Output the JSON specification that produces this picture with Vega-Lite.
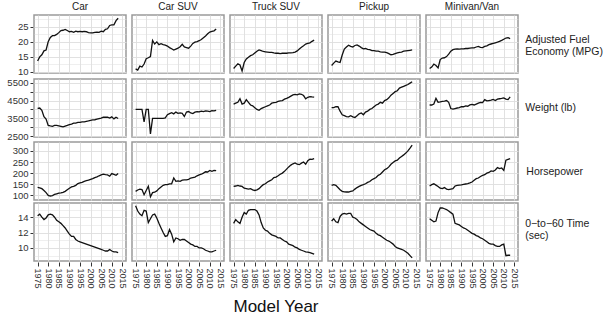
{
"$schema": "https://vega.github.io/schema/vega-lite/v6.json",
"padding": {"left": 6, "top": 2, "right": 2, "bottom": 2},
"datasets": {"d": [
{"c":"Car","yr":1975,"mpg":13.5,"wt":4060,"hp":136,"t":14.2},
{"c":"Car","yr":1976,"mpg":14.9,"wt":4080,"hp":134,"t":14.4},
{"c":"Car","yr":1977,"mpg":15.6,"wt":3950,"hp":130,"t":14.0},
{"c":"Car","yr":1978,"mpg":16.9,"wt":3590,"hp":122,"t":13.7},
{"c":"Car","yr":1979,"mpg":17.2,"wt":3460,"hp":112,"t":13.9},
{"c":"Car","yr":1980,"mpg":20.0,"wt":3100,"hp":100,"t":14.3},
{"c":"Car","yr":1981,"mpg":21.4,"wt":3070,"hp":97,"t":14.4},
{"c":"Car","yr":1982,"mpg":22.0,"wt":3050,"hp":99,"t":14.3},
{"c":"Car","yr":1983,"mpg":22.0,"wt":3100,"hp":104,"t":14.0},
{"c":"Car","yr":1984,"mpg":22.4,"wt":3100,"hp":107,"t":13.6},
{"c":"Car","yr":1985,"mpg":23.0,"wt":3080,"hp":110,"t":13.4},
{"c":"Car","yr":1986,"mpg":23.7,"wt":3050,"hp":111,"t":13.2},
{"c":"Car","yr":1987,"mpg":23.8,"wt":3020,"hp":113,"t":12.9},
{"c":"Car","yr":1988,"mpg":24.1,"wt":3060,"hp":118,"t":12.6},
{"c":"Car","yr":1989,"mpg":23.7,"wt":3100,"hp":125,"t":12.2},
{"c":"Car","yr":1990,"mpg":23.3,"wt":3150,"hp":132,"t":11.8},
{"c":"Car","yr":1991,"mpg":23.4,"wt":3180,"hp":138,"t":11.5},
{"c":"Car","yr":1992,"mpg":23.1,"wt":3230,"hp":140,"t":11.5},
{"c":"Car","yr":1993,"mpg":23.5,"wt":3230,"hp":145,"t":11.1},
{"c":"Car","yr":1994,"mpg":23.3,"wt":3270,"hp":153,"t":10.9},
{"c":"Car","yr":1995,"mpg":23.4,"wt":3270,"hp":156,"t":10.8},
{"c":"Car","yr":1996,"mpg":23.3,"wt":3300,"hp":158,"t":10.7},
{"c":"Car","yr":1997,"mpg":23.4,"wt":3300,"hp":163,"t":10.6},
{"c":"Car","yr":1998,"mpg":23.3,"wt":3330,"hp":166,"t":10.5},
{"c":"Car","yr":1999,"mpg":23.0,"wt":3350,"hp":168,"t":10.4},
{"c":"Car","yr":2000,"mpg":22.9,"wt":3390,"hp":172,"t":10.3},
{"c":"Car","yr":2001,"mpg":22.9,"wt":3410,"hp":175,"t":10.2},
{"c":"Car","yr":2002,"mpg":23.1,"wt":3420,"hp":180,"t":10.1},
{"c":"Car","yr":2003,"mpg":23.2,"wt":3450,"hp":183,"t":10.0},
{"c":"Car","yr":2004,"mpg":23.1,"wt":3480,"hp":188,"t":9.9},
{"c":"Car","yr":2005,"mpg":23.5,"wt":3510,"hp":192,"t":9.8},
{"c":"Car","yr":2006,"mpg":23.3,"wt":3560,"hp":195,"t":9.7},
{"c":"Car","yr":2007,"mpg":24.1,"wt":3570,"hp":193,"t":9.6},
{"c":"Car","yr":2008,"mpg":24.3,"wt":3560,"hp":192,"t":9.6},
{"c":"Car","yr":2009,"mpg":25.4,"wt":3510,"hp":186,"t":9.8},
{"c":"Car","yr":2010,"mpg":25.6,"wt":3580,"hp":198,"t":9.6},
{"c":"Car","yr":2011,"mpg":25.6,"wt":3470,"hp":194,"t":9.5},
{"c":"Car","yr":2012,"mpg":27.0,"wt":3560,"hp":190,"t":9.5},
{"c":"Car","yr":2013,"mpg":27.8,"wt":3490,"hp":198,"t":9.4},
{"c":"Car SUV","yr":1975,"mpg":10.9,"wt":4000,"hp":118,"t":15.5},
{"c":"Car SUV","yr":1976,"mpg":10.5,"wt":4000,"hp":124,"t":14.8},
{"c":"Car SUV","yr":1977,"mpg":11.8,"wt":4000,"hp":128,"t":14.4},
{"c":"Car SUV","yr":1978,"mpg":11.5,"wt":4000,"hp":126,"t":14.2},
{"c":"Car SUV","yr":1979,"mpg":12.5,"wt":3300,"hp":103,"t":14.9},
{"c":"Car SUV","yr":1980,"mpg":14.3,"wt":4000,"hp":122,"t":14.8},
{"c":"Car SUV","yr":1981,"mpg":14.6,"wt":4000,"hp":141,"t":13.3},
{"c":"Car SUV","yr":1982,"mpg":15.0,"wt":2620,"hp":93,"t":13.8},
{"c":"Car SUV","yr":1983,"mpg":20.4,"wt":3500,"hp":112,"t":14.3},
{"c":"Car SUV","yr":1984,"mpg":19.2,"wt":3500,"hp":114,"t":14.4},
{"c":"Car SUV","yr":1985,"mpg":19.9,"wt":3500,"hp":120,"t":13.9},
{"c":"Car SUV","yr":1986,"mpg":19.0,"wt":3500,"hp":130,"t":13.2},
{"c":"Car SUV","yr":1987,"mpg":19.3,"wt":3500,"hp":138,"t":12.6},
{"c":"Car SUV","yr":1988,"mpg":19.0,"wt":3500,"hp":145,"t":12.0},
{"c":"Car SUV","yr":1989,"mpg":18.8,"wt":3520,"hp":148,"t":11.5},
{"c":"Car SUV","yr":1990,"mpg":18.5,"wt":3700,"hp":148,"t":11.6},
{"c":"Car SUV","yr":1991,"mpg":18.0,"wt":3760,"hp":152,"t":12.4},
{"c":"Car SUV","yr":1992,"mpg":17.6,"wt":3820,"hp":152,"t":11.8},
{"c":"Car SUV","yr":1993,"mpg":17.2,"wt":3750,"hp":178,"t":10.8},
{"c":"Car SUV","yr":1994,"mpg":17.5,"wt":3850,"hp":163,"t":11.3},
{"c":"Car SUV","yr":1995,"mpg":17.8,"wt":3780,"hp":165,"t":11.2},
{"c":"Car SUV","yr":1996,"mpg":18.3,"wt":3800,"hp":163,"t":11.0},
{"c":"Car SUV","yr":1997,"mpg":19.1,"wt":3780,"hp":168,"t":11.1},
{"c":"Car SUV","yr":1998,"mpg":18.2,"wt":3600,"hp":170,"t":11.1},
{"c":"Car SUV","yr":1999,"mpg":18.0,"wt":3850,"hp":170,"t":10.9},
{"c":"Car SUV","yr":2000,"mpg":17.8,"wt":3880,"hp":172,"t":10.7},
{"c":"Car SUV","yr":2001,"mpg":18.5,"wt":3800,"hp":178,"t":10.5},
{"c":"Car SUV","yr":2002,"mpg":19.4,"wt":3770,"hp":180,"t":10.4},
{"c":"Car SUV","yr":2003,"mpg":19.8,"wt":3850,"hp":182,"t":10.2},
{"c":"Car SUV","yr":2004,"mpg":20.0,"wt":3880,"hp":188,"t":10.2},
{"c":"Car SUV","yr":2005,"mpg":20.3,"wt":3860,"hp":192,"t":10.0},
{"c":"Car SUV","yr":2006,"mpg":20.7,"wt":3900,"hp":195,"t":10.0},
{"c":"Car SUV","yr":2007,"mpg":21.3,"wt":3880,"hp":200,"t":9.9},
{"c":"Car SUV","yr":2008,"mpg":21.9,"wt":3920,"hp":206,"t":9.7},
{"c":"Car SUV","yr":2009,"mpg":22.6,"wt":3900,"hp":205,"t":9.6},
{"c":"Car SUV","yr":2010,"mpg":23.2,"wt":3880,"hp":212,"t":9.5},
{"c":"Car SUV","yr":2011,"mpg":23.4,"wt":3930,"hp":208,"t":9.5},
{"c":"Car SUV","yr":2012,"mpg":23.6,"wt":3920,"hp":212,"t":9.6},
{"c":"Car SUV","yr":2013,"mpg":24.2,"wt":3950,"hp":211,"t":9.7},
{"c":"Truck SUV","yr":1975,"mpg":11.0,"wt":4300,"hp":140,"t":13.2},
{"c":"Truck SUV","yr":1976,"mpg":11.8,"wt":4350,"hp":142,"t":13.7},
{"c":"Truck SUV","yr":1977,"mpg":12.6,"wt":4400,"hp":145,"t":13.4},
{"c":"Truck SUV","yr":1978,"mpg":12.2,"wt":4600,"hp":142,"t":13.2},
{"c":"Truck SUV","yr":1979,"mpg":10.2,"wt":4300,"hp":140,"t":14.0},
{"c":"Truck SUV","yr":1980,"mpg":13.0,"wt":4350,"hp":132,"t":14.6},
{"c":"Truck SUV","yr":1981,"mpg":14.2,"wt":4550,"hp":130,"t":14.4},
{"c":"Truck SUV","yr":1982,"mpg":14.8,"wt":4400,"hp":128,"t":14.9},
{"c":"Truck SUV","yr":1983,"mpg":15.3,"wt":4250,"hp":130,"t":15.0},
{"c":"Truck SUV","yr":1984,"mpg":15.6,"wt":4200,"hp":125,"t":15.0},
{"c":"Truck SUV","yr":1985,"mpg":16.2,"wt":4100,"hp":122,"t":15.0},
{"c":"Truck SUV","yr":1986,"mpg":16.8,"wt":4000,"hp":125,"t":14.8},
{"c":"Truck SUV","yr":1987,"mpg":17.2,"wt":3950,"hp":130,"t":14.3},
{"c":"Truck SUV","yr":1988,"mpg":17.0,"wt":4050,"hp":140,"t":13.3},
{"c":"Truck SUV","yr":1989,"mpg":16.7,"wt":4100,"hp":148,"t":12.6},
{"c":"Truck SUV","yr":1990,"mpg":16.6,"wt":4150,"hp":152,"t":12.3},
{"c":"Truck SUV","yr":1991,"mpg":16.5,"wt":4200,"hp":160,"t":12.2},
{"c":"Truck SUV","yr":1992,"mpg":16.4,"wt":4250,"hp":165,"t":11.9},
{"c":"Truck SUV","yr":1993,"mpg":16.4,"wt":4350,"hp":170,"t":11.7},
{"c":"Truck SUV","yr":1994,"mpg":16.2,"wt":4380,"hp":180,"t":11.6},
{"c":"Truck SUV","yr":1995,"mpg":16.1,"wt":4400,"hp":182,"t":11.5},
{"c":"Truck SUV","yr":1996,"mpg":16.1,"wt":4450,"hp":188,"t":11.3},
{"c":"Truck SUV","yr":1997,"mpg":16.0,"wt":4480,"hp":195,"t":11.3},
{"c":"Truck SUV","yr":1998,"mpg":16.1,"wt":4500,"hp":200,"t":11.1},
{"c":"Truck SUV","yr":1999,"mpg":16.1,"wt":4580,"hp":208,"t":10.9},
{"c":"Truck SUV","yr":2000,"mpg":16.1,"wt":4620,"hp":218,"t":10.8},
{"c":"Truck SUV","yr":2001,"mpg":16.2,"wt":4680,"hp":228,"t":10.5},
{"c":"Truck SUV","yr":2002,"mpg":16.2,"wt":4750,"hp":236,"t":10.4},
{"c":"Truck SUV","yr":2003,"mpg":16.3,"wt":4820,"hp":242,"t":10.3},
{"c":"Truck SUV","yr":2004,"mpg":16.5,"wt":4840,"hp":246,"t":10.1},
{"c":"Truck SUV","yr":2005,"mpg":16.9,"wt":4820,"hp":240,"t":10.0},
{"c":"Truck SUV","yr":2006,"mpg":17.5,"wt":4870,"hp":238,"t":9.8},
{"c":"Truck SUV","yr":2007,"mpg":18.1,"wt":4850,"hp":245,"t":9.7},
{"c":"Truck SUV","yr":2008,"mpg":18.6,"wt":4780,"hp":250,"t":9.6},
{"c":"Truck SUV","yr":2009,"mpg":19.2,"wt":4600,"hp":240,"t":9.5},
{"c":"Truck SUV","yr":2010,"mpg":19.4,"wt":4680,"hp":256,"t":9.45},
{"c":"Truck SUV","yr":2011,"mpg":19.6,"wt":4720,"hp":263,"t":9.4},
{"c":"Truck SUV","yr":2012,"mpg":20.1,"wt":4700,"hp":262,"t":9.3},
{"c":"Truck SUV","yr":2013,"mpg":20.5,"wt":4690,"hp":265,"t":9.2},
{"c":"Pickup","yr":1975,"mpg":12.0,"wt":4100,"hp":145,"t":13.5},
{"c":"Pickup","yr":1976,"mpg":12.8,"wt":4100,"hp":148,"t":13.8},
{"c":"Pickup","yr":1977,"mpg":13.5,"wt":4150,"hp":145,"t":13.4},
{"c":"Pickup","yr":1978,"mpg":13.2,"wt":4150,"hp":135,"t":13.3},
{"c":"Pickup","yr":1979,"mpg":13.0,"wt":3900,"hp":125,"t":14.1},
{"c":"Pickup","yr":1980,"mpg":15.5,"wt":3700,"hp":118,"t":14.4},
{"c":"Pickup","yr":1981,"mpg":17.5,"wt":3650,"hp":116,"t":14.5},
{"c":"Pickup","yr":1982,"mpg":18.2,"wt":3600,"hp":115,"t":14.4},
{"c":"Pickup","yr":1983,"mpg":18.8,"wt":3580,"hp":115,"t":14.5},
{"c":"Pickup","yr":1984,"mpg":18.4,"wt":3650,"hp":118,"t":14.5},
{"c":"Pickup","yr":1985,"mpg":18.2,"wt":3580,"hp":120,"t":14.0},
{"c":"Pickup","yr":1986,"mpg":18.7,"wt":3550,"hp":128,"t":13.9},
{"c":"Pickup","yr":1987,"mpg":18.9,"wt":3650,"hp":135,"t":13.7},
{"c":"Pickup","yr":1988,"mpg":18.5,"wt":3750,"hp":140,"t":13.4},
{"c":"Pickup","yr":1989,"mpg":18.0,"wt":3800,"hp":145,"t":13.2},
{"c":"Pickup","yr":1990,"mpg":17.6,"wt":3700,"hp":148,"t":13.0},
{"c":"Pickup","yr":1991,"mpg":17.7,"wt":3850,"hp":152,"t":12.8},
{"c":"Pickup","yr":1992,"mpg":17.4,"wt":3900,"hp":158,"t":12.6},
{"c":"Pickup","yr":1993,"mpg":17.3,"wt":4000,"hp":162,"t":12.4},
{"c":"Pickup","yr":1994,"mpg":17.0,"wt":4050,"hp":170,"t":12.3},
{"c":"Pickup","yr":1995,"mpg":17.0,"wt":4150,"hp":175,"t":12.2},
{"c":"Pickup","yr":1996,"mpg":16.8,"wt":4250,"hp":180,"t":11.9},
{"c":"Pickup","yr":1997,"mpg":16.8,"wt":4300,"hp":190,"t":11.7},
{"c":"Pickup","yr":1998,"mpg":16.6,"wt":4400,"hp":195,"t":11.6},
{"c":"Pickup","yr":1999,"mpg":16.5,"wt":4350,"hp":205,"t":11.4},
{"c":"Pickup","yr":2000,"mpg":16.5,"wt":4500,"hp":215,"t":11.2},
{"c":"Pickup","yr":2001,"mpg":16.3,"wt":4550,"hp":220,"t":11.0},
{"c":"Pickup","yr":2002,"mpg":16.0,"wt":4650,"hp":228,"t":10.9},
{"c":"Pickup","yr":2003,"mpg":15.6,"wt":4800,"hp":240,"t":10.7},
{"c":"Pickup","yr":2004,"mpg":15.7,"wt":4900,"hp":248,"t":10.5},
{"c":"Pickup","yr":2005,"mpg":16.0,"wt":5000,"hp":255,"t":10.2},
{"c":"Pickup","yr":2006,"mpg":16.2,"wt":5050,"hp":258,"t":10.0},
{"c":"Pickup","yr":2007,"mpg":16.4,"wt":5200,"hp":268,"t":9.9},
{"c":"Pickup","yr":2008,"mpg":16.5,"wt":5250,"hp":275,"t":9.8},
{"c":"Pickup","yr":2009,"mpg":16.8,"wt":5300,"hp":282,"t":9.7},
{"c":"Pickup","yr":2010,"mpg":16.9,"wt":5350,"hp":290,"t":9.5},
{"c":"Pickup","yr":2011,"mpg":17.0,"wt":5400,"hp":300,"t":9.3},
{"c":"Pickup","yr":2012,"mpg":17.1,"wt":5480,"hp":312,"t":9.0},
{"c":"Pickup","yr":2013,"mpg":17.2,"wt":5560,"hp":326,"t":8.7},
{"c":"Minivan/Van","yr":1975,"mpg":11.0,"wt":4250,"hp":142,"t":13.8},
{"c":"Minivan/Van","yr":1976,"mpg":11.5,"wt":4250,"hp":148,"t":13.6},
{"c":"Minivan/Van","yr":1977,"mpg":12.5,"wt":4300,"hp":152,"t":13.4},
{"c":"Minivan/Van","yr":1978,"mpg":12.0,"wt":4620,"hp":146,"t":13.5},
{"c":"Minivan/Van","yr":1979,"mpg":11.2,"wt":4400,"hp":140,"t":14.6},
{"c":"Minivan/Van","yr":1980,"mpg":14.0,"wt":4420,"hp":132,"t":15.2},
{"c":"Minivan/Van","yr":1981,"mpg":14.5,"wt":4450,"hp":130,"t":15.2},
{"c":"Minivan/Van","yr":1982,"mpg":14.6,"wt":4470,"hp":135,"t":15.1},
{"c":"Minivan/Van","yr":1983,"mpg":15.0,"wt":4500,"hp":128,"t":15.0},
{"c":"Minivan/Van","yr":1984,"mpg":15.8,"wt":4400,"hp":126,"t":14.8},
{"c":"Minivan/Van","yr":1985,"mpg":16.8,"wt":4050,"hp":128,"t":14.6},
{"c":"Minivan/Van","yr":1986,"mpg":17.3,"wt":4020,"hp":130,"t":14.4},
{"c":"Minivan/Van","yr":1987,"mpg":17.5,"wt":4050,"hp":142,"t":13.2},
{"c":"Minivan/Van","yr":1988,"mpg":17.6,"wt":4080,"hp":145,"t":13.1},
{"c":"Minivan/Van","yr":1989,"mpg":17.5,"wt":4100,"hp":146,"t":13.0},
{"c":"Minivan/Van","yr":1990,"mpg":17.6,"wt":4150,"hp":147,"t":12.8},
{"c":"Minivan/Van","yr":1991,"mpg":17.6,"wt":4150,"hp":149,"t":12.6},
{"c":"Minivan/Van","yr":1992,"mpg":17.7,"wt":4200,"hp":151,"t":12.5},
{"c":"Minivan/Van","yr":1993,"mpg":17.7,"wt":4180,"hp":153,"t":12.3},
{"c":"Minivan/Van","yr":1994,"mpg":17.8,"wt":4250,"hp":156,"t":12.1},
{"c":"Minivan/Van","yr":1995,"mpg":17.9,"wt":4280,"hp":160,"t":11.9},
{"c":"Minivan/Van","yr":1996,"mpg":17.9,"wt":4250,"hp":168,"t":11.8},
{"c":"Minivan/Van","yr":1997,"mpg":18.2,"wt":4300,"hp":175,"t":11.6},
{"c":"Minivan/Van","yr":1998,"mpg":18.4,"wt":4350,"hp":178,"t":11.5},
{"c":"Minivan/Van","yr":1999,"mpg":18.1,"wt":4400,"hp":185,"t":11.3},
{"c":"Minivan/Van","yr":2000,"mpg":18.0,"wt":4380,"hp":190,"t":11.2},
{"c":"Minivan/Van","yr":2001,"mpg":18.4,"wt":4550,"hp":193,"t":11.0},
{"c":"Minivan/Van","yr":2002,"mpg":18.6,"wt":4480,"hp":200,"t":10.8},
{"c":"Minivan/Van","yr":2003,"mpg":19.0,"wt":4500,"hp":203,"t":10.6},
{"c":"Minivan/Van","yr":2004,"mpg":19.2,"wt":4520,"hp":210,"t":10.5},
{"c":"Minivan/Van","yr":2005,"mpg":19.4,"wt":4560,"hp":208,"t":10.5},
{"c":"Minivan/Van","yr":2006,"mpg":19.6,"wt":4500,"hp":214,"t":10.3},
{"c":"Minivan/Van","yr":2007,"mpg":19.8,"wt":4580,"hp":225,"t":10.2},
{"c":"Minivan/Van","yr":2008,"mpg":20.1,"wt":4600,"hp":220,"t":10.2},
{"c":"Minivan/Van","yr":2009,"mpg":20.4,"wt":4620,"hp":223,"t":10.4},
{"c":"Minivan/Van","yr":2010,"mpg":20.8,"wt":4650,"hp":212,"t":10.5},
{"c":"Minivan/Van","yr":2011,"mpg":21.2,"wt":4580,"hp":258,"t":9.0},
{"c":"Minivan/Van","yr":2012,"mpg":21.3,"wt":4550,"hp":262,"t":9.05},
{"c":"Minivan/Van","yr":2013,"mpg":21.0,"wt":4700,"hp":265,"t":9.05}
]},
"spacing": 0,
"vconcat": [
{
 "data": {"name": "d"},
 "title": {"text": ["Adjusted Fuel", "Economy (MPG)"], "orient": "right", "angle": 0, "align": "left", "baseline": "middle", "anchor": "middle", "offset": 7, "lineHeight": 12, "dy": 1, "dx": -78},
 "facet": {
  "column": {"field": "c", "sort": ["Car","Car SUV","Truck SUV","Pickup","Minivan/Van"], "header": {"title": null, "labelFontSize": 10, "labelColor": "#222", "labelPadding": 2}}
 },
 "spacing": {"column": 4},
 "spec": {
  "width": 92, "height": 58,
  "mark": {"type": "line", "color": "#111", "strokeWidth": 1.3},
  "encoding": {
   "x": {"field": "yr", "type": "quantitative", "scale": {"domain": [1973.3, 2016.7], "nice": false, "zero": false},
         "axis": {"values": [1975,1980,1985,1990,1995,2000,2005,2010,2015], "labels": false, "ticks": false, "domain": false, "title": null}},
   "y": {"field": "mpg", "type": "quantitative", "scale": {"domain": [9.5, 28.9], "nice": false, "zero": false},
         "axis": {"title": null, "minExtent": 24, "maxExtent": 24, "values": [10,12.5,15,17.5,20,22.5,25,27.5],
                  "labelExpr": "datum.value % 5 == 0 ? datum.label : ''",
                  "tickOpacity": {"condition": {"test": "datum.value % 5 != 0", "value": 0}, "value": 1},
                  "gridWidth": {"condition": {"test": "datum.value % 5 != 0", "value": 0.5}, "value": 0.9}}}
  }
 }
},
{
 "data": {"name": "d"},
 "title": {"text": "Weight (lb)", "orient": "right", "angle": 0, "align": "left", "baseline": "middle", "anchor": "middle", "offset": 7, "dx": -51, "dy": -1},
 "facet": {
  "column": {"field": "c", "sort": ["Car","Car SUV","Truck SUV","Pickup","Minivan/Van"], "header": {"title": null, "labels": false}}
 },
 "spacing": {"column": 4},
 "spec": {
  "width": 92, "height": 58,
  "mark": {"type": "line", "color": "#111", "strokeWidth": 1.3},
  "encoding": {
   "x": {"field": "yr", "type": "quantitative", "scale": {"domain": [1973.3, 2016.7], "nice": false, "zero": false},
         "axis": {"values": [1975,1980,1985,1990,1995,2000,2005,2010,2015], "labels": false, "ticks": false, "domain": false, "title": null}},
   "y": {"field": "wt", "type": "quantitative", "scale": {"domain": [2450, 5710], "nice": false, "zero": false},
         "axis": {"title": null, "minExtent": 24, "maxExtent": 24, "format": "d", "values": [2500,3000,3500,4000,4500,5000,5500]}}
  }
 }
},
{
 "data": {"name": "d"},
 "title": {"text": "Horsepower", "orient": "right", "angle": 0, "align": "left", "baseline": "middle", "anchor": "middle", "offset": 7, "dx": -56},
 "facet": {
  "column": {"field": "c", "sort": ["Car","Car SUV","Truck SUV","Pickup","Minivan/Van"], "header": {"title": null, "labels": false}}
 },
 "spacing": {"column": 4},
 "spec": {
  "width": 92, "height": 58,
  "mark": {"type": "line", "color": "#111", "strokeWidth": 1.3},
  "encoding": {
   "x": {"field": "yr", "type": "quantitative", "scale": {"domain": [1973.3, 2016.7], "nice": false, "zero": false},
         "axis": {"values": [1975,1980,1985,1990,1995,2000,2005,2010,2015], "labels": false, "ticks": false, "domain": false, "title": null, "minExtent": 1, "maxExtent": 1}},
   "y": {"field": "hp", "type": "quantitative", "scale": {"domain": [79, 340], "nice": false, "zero": false},
         "axis": {"title": null, "minExtent": 24, "maxExtent": 24, "values": [100,150,200,250,300]}}
  }
 }
},
{
 "data": {"name": "d"},
 "title": {"text": ["0\u2212to\u221260 Time", "(sec)"], "orient": "right", "angle": 0, "align": "left", "baseline": "middle", "anchor": "start", "offset": 7, "lineHeight": 12, "dy": 22, "dx": -65},
 "facet": {
  "column": {"field": "c", "sort": ["Car","Car SUV","Truck SUV","Pickup","Minivan/Van"], "header": {"title": "Model Year", "titleOrient": "bottom", "labels": false, "titleFontSize": 17, "titleFontWeight": "normal", "titleColor": "#111", "titlePadding": 0}}
 },
 "spacing": {"column": 4},
 "spec": {
  "width": 92, "height": 58,
  "mark": {"type": "line", "color": "#111", "strokeWidth": 1.3},
  "encoding": {
   "x": {"field": "yr", "type": "quantitative", "scale": {"domain": [1973.3, 2016.7], "nice": false, "zero": false},
         "axis": {"values": [1975,1980,1985,1990,1995,2000,2005,2010,2015], "format": "d", "labelAngle": 90, "labelAlign": "left", "labelBaseline": "middle", "labelFontSize": 9, "tickSize": 4, "domain": false, "labelPadding": 2, "title": null}},
   "y": {"field": "t", "type": "quantitative", "scale": {"domain": [8.3, 15.85], "nice": false, "zero": false},
         "axis": {"title": null, "minExtent": 24, "maxExtent": 24, "values": [9,10,11,12,13,14,15],
                  "labelExpr": "datum.value % 2 == 0 ? datum.label : ''",
                  "tickOpacity": {"condition": {"test": "datum.value % 2 != 0", "value": 0}, "value": 1},
                  "gridWidth": {"condition": {"test": "datum.value % 2 != 0", "value": 0.5}, "value": 0.9}}}
  }
 }
}
],
"config": {
 "font": "Liberation Sans",
 "view": {"stroke": "#9a9a9a", "strokeWidth": 1.5},
 "axis": {"gridColor": "#dedede", "gridWidth": 0.9, "labelFontSize": 9.5, "labelColor": "#333", "tickColor": "#333", "tickSize": 3, "domain": false, "labelPadding": 2},
 "title": {"fontSize": 10.5, "fontWeight": "normal", "color": "#222", "font": "Liberation Sans"}
}
}
